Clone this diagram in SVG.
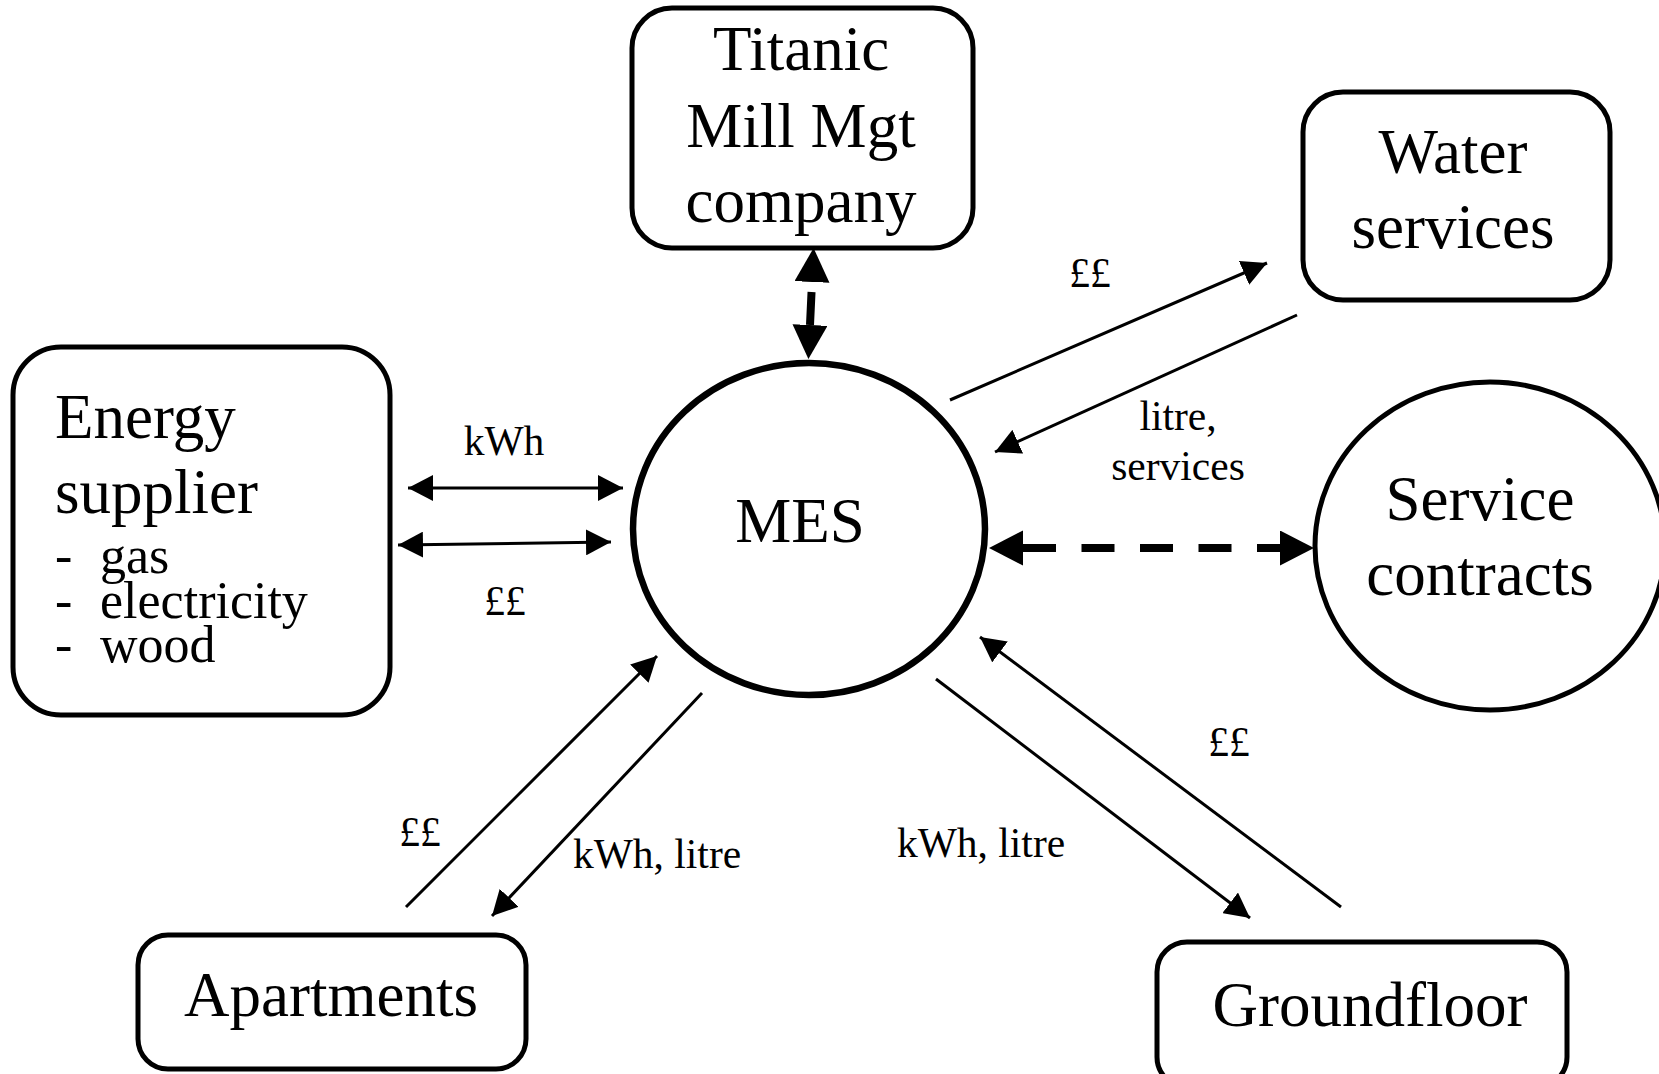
<svg xmlns="http://www.w3.org/2000/svg" width="1659" height="1074" viewBox="0 0 1659 1074">
  <style>
    text { font-family: "Liberation Serif", "Times New Roman", serif; fill: #000; }
    .big { font-size: 63px; }
    .list { font-size: 52px; }
    .lbl { font-size: 41.5px; }
    .mid { text-anchor: middle; }
    .box { fill: #fff; stroke: #000; stroke-width: 5; }
    .thin { stroke: #000; stroke-width: 3; fill: none; marker-end: url(#ah); }
    .both { marker-start: url(#ah); }
    .thick { stroke: #000; stroke-width: 8; fill: none; marker-start: url(#big); marker-end: url(#big); }
  </style>
  <defs>
    <marker id="ah" markerUnits="userSpaceOnUse" markerWidth="26" markerHeight="26" refX="25" refY="13" orient="auto-start-reverse">
      <path d="M0,0 L25,13 L0,26 z" fill="#000"/>
    </marker>
    <marker id="big" markerUnits="userSpaceOnUse" markerWidth="36" markerHeight="36" refX="0" refY="17.5" orient="auto-start-reverse">
      <path d="M0,0 L34,17.5 L0,35 z" fill="#000"/>
    </marker>
  </defs>
  <rect width="1659" height="1074" fill="#fff"/>

  <g id="connectors">
    <line class="thick" x1="812" y1="282" x2="810" y2="325" stroke-dasharray="0 10 34 10"/>
    <line class="thin both" x1="408" y1="488" x2="623" y2="488"/>
    <line class="thin both" x1="398" y1="545" x2="611" y2="542"/>
    <line class="thin" x1="950" y1="400" x2="1267" y2="263"/>
    <line class="thin" x1="1297" y1="315" x2="995" y2="452"/>
    <line class="thick" x1="1023" y1="548" x2="1280" y2="548" stroke-dasharray="33 25.5"/>
    <line class="thin" x1="406" y1="907" x2="657" y2="656"/>
    <line class="thin" x1="702" y1="693" x2="492" y2="916"/>
    <line class="thin" x1="936" y1="679" x2="1250" y2="918"/>
    <line class="thin" x1="1341" y1="907" x2="980" y2="637"/>
    <text class="lbl mid" x="504" y="455">kWh</text>
    <text class="lbl mid" x="505" y="615">££</text>
    <text class="lbl mid" x="1090" y="287">££</text>
    <text class="lbl mid" x="1178" y="430">litre,</text>
    <text class="lbl mid" x="1178" y="480">services</text>
    <text class="lbl mid" x="420" y="846">££</text>
    <text class="lbl mid" x="657" y="868">kWh, litre</text>
    <text class="lbl mid" x="1229" y="756">££</text>
    <text class="lbl mid" x="981" y="857">kWh, litre</text>
  </g>

  <g id="titanic">
    <rect class="box" x="632" y="8" width="341" height="240" rx="40"/>
    <text class="big mid" x="801" y="70">Titanic</text>
    <text class="big mid" x="801" y="147">Mill Mgt</text>
    <text class="big mid" x="801" y="222">company</text>
  </g>

  <g id="water">
    <rect class="box" x="1303" y="92" width="307" height="208" rx="40"/>
    <text class="big mid" x="1453" y="173">Water</text>
    <text class="big mid" x="1453" y="248">services</text>
  </g>

  <g id="energy">
    <rect class="box" x="13" y="347" width="377" height="368" rx="48"/>
    <text class="big" x="55" y="438">Energy</text>
    <text class="big" x="55" y="513">supplier</text>
    <text class="list" x="55" y="573">-</text>
    <text class="list" x="100" y="573">gas</text>
    <text class="list" x="55" y="618">-</text>
    <text class="list" x="100" y="618">electricity</text>
    <text class="list" x="55" y="662">-</text>
    <text class="list" x="100" y="662">wood</text>
  </g>

  <g id="mes">
    <ellipse cx="809" cy="529" rx="176" ry="166" fill="#fff" stroke="#000" stroke-width="6.5"/>
    <text class="big mid" x="800" y="542">MES</text>
  </g>

  <g id="service">
    <ellipse cx="1490" cy="546" rx="175" ry="164" fill="#fff" stroke="#000" stroke-width="5"/>
    <text class="big mid" x="1480" y="520">Service</text>
    <text class="big mid" x="1480" y="595">contracts</text>
  </g>

  <g id="apartments">
    <rect class="box" x="138" y="935" width="388" height="134" rx="30"/>
    <text class="big mid" x="331" y="1016">Apartments</text>
  </g>

  <g id="groundfloor">
    <rect class="box" x="1157" y="942" width="410" height="145" rx="30"/>
    <text class="big mid" x="1370" y="1026">Groundfloor</text>
  </g>
</svg>
